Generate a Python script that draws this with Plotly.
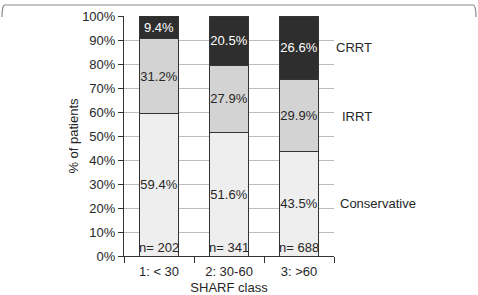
import plotly.graph_objects as go

categories = ["1: < 30", "2: 30-60", "3: >60"]
conservative = [59.4, 51.6, 43.5]
irrt = [31.2, 27.9, 29.9]
crrt = [9.4, 20.5, 26.6]
n_labels = ["n= 202", "n= 341", "n= 688"]
series_names = ["Conservative", "IRRT", "CRRT"]
y_ticks = [0, 10, 20, 30, 40, 50, 60, 70, 80, 90, 100]

FONT = "Liberation Sans, Arial, sans-serif"
TXT = "#262626"
FS = 13

fig = go.Figure()
series = [
    (conservative, "#eeeeee", TXT),
    (irrt, "#d3d3d3", TXT),
    (crrt, "#2e2e2e", "#ffffff"),
]
for (vals, color, tcolor), name in zip(series, series_names):
    fig.add_trace(go.Bar(
        x=categories, y=vals, name=name,
        marker=dict(color=color, line=dict(color="#333333", width=1)),
        text=[f"{v:.1f}%" for v in vals],
        textposition="inside", insidetextanchor="middle", textangle=0,
        textfont=dict(family=FONT, size=FS, color=tcolor),
        constraintext="none",
        width=0.56,
    ))

for c, t in zip(categories, n_labels):
    fig.add_annotation(x=c, y=0, xref="x", yref="y", text=t, showarrow=False,
                       yanchor="bottom", yshift=-1,
                       font=dict(family=FONT, size=FS, color=TXT))

# right-side series labels (positioned alongside the third bar)
label_pos = {"Conservative": (1.018, 22), "IRRT": (1.03, 58.3), "CRRT": (1.0, 86.7)}
for name in series_names:
    px, py = label_pos[name]
    fig.add_annotation(x=px, y=py, xref="paper", yref="y", text=name, showarrow=False,
                       xanchor="left", yanchor="middle",
                       font=dict(family=FONT, size=FS, color=TXT))

# top frame edge with rounded corners
r_x = 3 / 210
r_y = 3 / 240
x0, x1, y0 = -0.581, 1.676, 1.0458
fig.add_shape(type="path", xref="paper", yref="paper",
              path=f"M {x0},{y0 - 4*r_y} Q {x0},{y0} {x0 + r_x},{y0} L {x1 - r_x},{y0} Q {x1},{y0} {x1},{y0 - 4*r_y}",
              line=dict(color="#8a8a8a", width=1.2))

fig.update_layout(
    barmode="stack",
    width=478, height=295,
    margin=dict(l=124, r=144, t=16, b=39, autoexpand=False),
    paper_bgcolor="white", plot_bgcolor="white",
    showlegend=False,
    font=dict(family=FONT, size=FS, color=TXT),
    xaxis=dict(
        type="category", range=[-0.5, 2.5], tickson="boundaries",
        ticks="outside", ticklen=6, tickcolor="#333333",
        ticklabelstandoff=3,
        showline=True, linecolor="#333333", linewidth=1,
        showgrid=False, tickfont=dict(family=FONT, size=FS, color=TXT),
        title=dict(text="SHARF class", font=dict(family=FONT, size=FS, color=TXT), standoff=11),
    ),
    yaxis=dict(
        range=[0, 100], tickvals=y_ticks, ticktext=[f"{v}%" for v in y_ticks],
        ticks="outside", ticklen=5, tickcolor="#333333",
        showline=True, linecolor="#333333", linewidth=1,
        showgrid=True, gridcolor="#bdbdbd", gridwidth=1,
        zeroline=False,
        tickfont=dict(family=FONT, size=FS, color=TXT),
        title=dict(text="% of patients", font=dict(family=FONT, size=FS, color=TXT), standoff=0),
    ),
)

fig.write_html("out.html")
